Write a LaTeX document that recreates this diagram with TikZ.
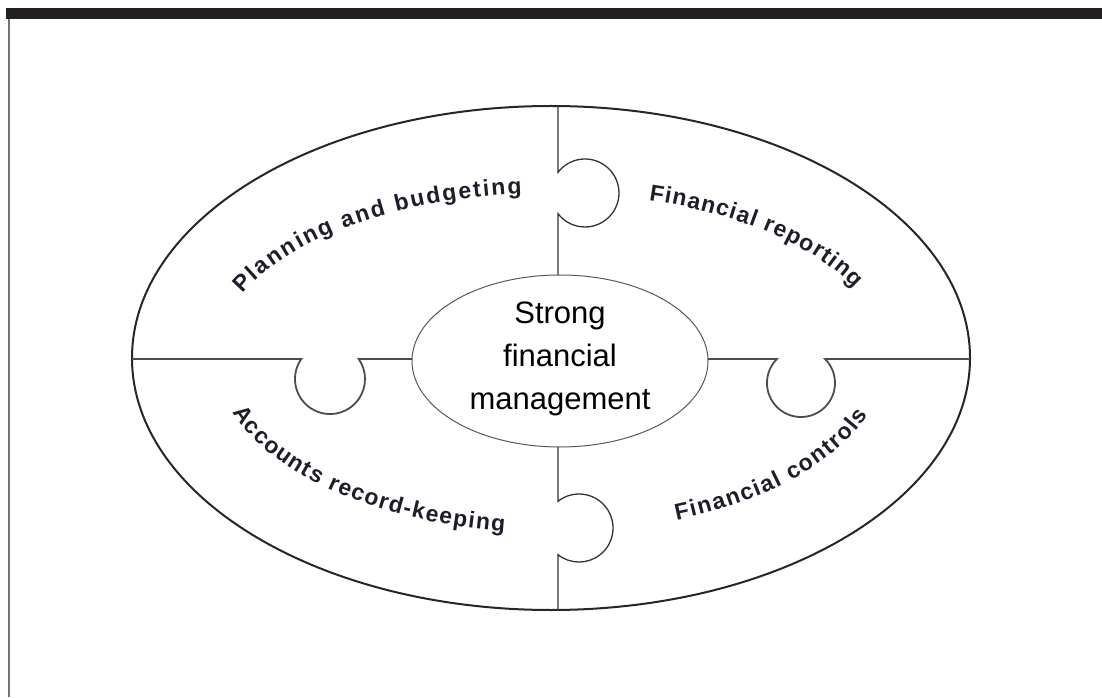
\documentclass[tikz,border=0pt]{standalone}
\usepackage{fontspec}
\setmainfont{Liberation Sans}
\usetikzlibrary{decorations.text}
\definecolor{ink}{RGB}{30,30,42}
\definecolor{barcol}{RGB}{35,31,32}
\newcommand\arclabelfont{\fontsize{23}{26}\selectfont\bfseries}
\newcommand\hubfont{\fontsize{31}{43}\selectfont}
\begin{document}
\begin{tikzpicture}[x=1pt,y=1pt,
  rim/.style={line width=2pt, draw=black!85},
  seam/.style={line width=1.3pt, draw=black!80},
  hubline/.style={line width=1pt, draw=black!65},
  arclabel/.style={decorate, decoration={text along path, text align=fit to path,
      text color=ink, text={|\arclabelfont|#1}}}
]
\useasboundingbox (0,0) rectangle (1102,697);

% page frame: heavy top rule and thin left rule
\fill[barcol] (6,678) rectangle (1102,689);
\fill[black!55] (8,0) rectangle (10,678);

% centres
\coordinate (c) at (551,339);
\coordinate (h) at (560,336);

% outer ellipse and hub
\draw[rim] (c) ellipse [x radius=419pt, y radius=252pt];
\draw[hubline] (h) ellipse [x radius=148pt, y radius=86pt];
\node[align=center, font=\hubfont, text=black] (hub) at (560,338) {Strong\\financial\\management};

% puzzle seams with knobs
\coordinate (topA) at (558,591);
\coordinate (topB) at (558,422);
\coordinate (botA) at (558,250);
\coordinate (botB) at (558,87);
\coordinate (lefA) at (132,338);
\coordinate (lefB) at (412,338);
\coordinate (rigA) at (708,338);
\coordinate (rigB) at (970,338);

\draw[seam] (topA) -- (558,524.7) arc[start angle=142.5, end angle=-142.5, radius=34pt] -- (topB);
\draw[seam] (botA) -- (558,195.7) arc[start angle=128.2, end angle=-128.2, radius=34pt] -- (botB);
\draw[seam, line width=1.8pt, draw=black!70] (lefA) -- (301.3,338) arc[start angle=145.1, end angle=394.9, radius=35pt] -- (lefB);
\draw[seam, line width=1.8pt, draw=black!70] (rigA) -- (776.9,338) arc[start angle=135.1, end angle=404.9, radius=34pt] -- (rigB);

% curved quadrant labels
\path[arclabel={Planning and budgeting}]
  ([shift={(157:335pt and 165pt)}]c) arc[start angle=157, end angle=95, x radius=335pt, y radius=165pt];
\path[arclabel={Financial reporting}]
  ([shift={(73:335pt and 165pt)}]c) arc[start angle=73, end angle=25, x radius=335pt, y radius=165pt];
\path[arclabel={Accounts record-keeping}]
  ([shift={(198:335pt and 175pt)}]c) arc[start angle=198, end angle=262, x radius=335pt, y radius=175pt];
\path[arclabel={Financial controls}]
  ([shift={(292:335pt and 175pt)}]c) arc[start angle=292, end angle=341, x radius=335pt, y radius=175pt];
\end{tikzpicture}
\end{document}
